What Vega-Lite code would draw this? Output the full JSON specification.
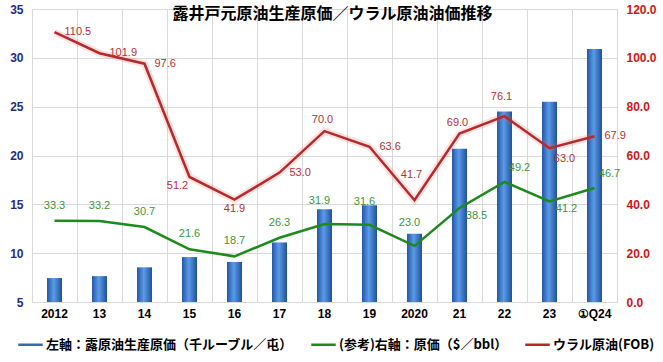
{
  "$schema": "https://vega.github.io/schema/vega-lite/v6.json",
  "width": 585,
  "height": 293,
  "autosize": {"type": "pad"},
  "padding": {"left": 5, "right": 5, "top": 3, "bottom": 5},
  "background": "white",
  "title": {
    "text": "露井戸元原油生産原価／ウラル原油油価推移",
    "font": "Noto Sans CJK JP",
    "fontSize": 16,
    "fontWeight": "bold",
    "color": "#000000",
    "anchor": "middle",
    "frame": "group",
    "offset": -19,
    "dx": 8
  },
  "data": {
    "values": [
      {"year": "2012", "cost": 7.45, "cost_usd": 33.3, "urals": 110.5},
      {"year": "13", "cost": 7.65, "cost_usd": 33.2, "urals": 101.9},
      {"year": "14", "cost": 8.55, "cost_usd": 30.7, "urals": 97.6},
      {"year": "15", "cost": 9.6, "cost_usd": 21.6, "urals": 51.2},
      {"year": "16", "cost": 9.1, "cost_usd": 18.7, "urals": 41.9},
      {"year": "17", "cost": 11.1, "cost_usd": 26.3, "urals": 53.0},
      {"year": "18", "cost": 14.5, "cost_usd": 31.9, "urals": 70.0},
      {"year": "19", "cost": 14.9, "cost_usd": 31.6, "urals": 63.6},
      {"year": "2020", "cost": 12.0, "cost_usd": 23.0, "urals": 41.7},
      {"year": "21", "cost": 20.7, "cost_usd": 38.5, "urals": 69.0},
      {"year": "22", "cost": 24.5, "cost_usd": 49.2, "urals": 76.1},
      {"year": "23", "cost": 25.5, "cost_usd": 41.2, "urals": 63.0},
      {"year": "①Q24", "cost": 30.9, "cost_usd": 46.7, "urals": 67.9}
    ]
  },
  "encoding": {
    "x": {
      "field": "year",
      "type": "ordinal",
      "sort": null,
      "scale": {"paddingInner": 0, "paddingOuter": 0},
      "axis": {
        "title": null,
        "labelAngle": 0,
        "labelFont": "Liberation Sans",
        "labelFontSize": 12,
        "labelFontWeight": "bold",
        "labelColor": "#000000",
        "labelPadding": 6,
        "ticks": false,
        "domain": false,
        "grid": true,
        "bandPosition": 0,
        "gridColor": "#d9d9d9"
      }
    }
  },
  "layer": [
    {
      "mark": {
        "type": "bar",
        "size": 15,
        "strokeWidth": 0,
        "fill": {
          "gradient": "linear",
          "x1": 0, "x2": 1, "y1": 0, "y2": 0,
          "stops": [
            {"offset": 0, "color": "#2355a6"},
            {"offset": 0.45, "color": "#5a9be8"},
            {"offset": 1, "color": "#21509c"}
          ]
        }
      },
      "encoding": {
        "y": {
          "field": "cost",
          "type": "quantitative",
          "scale": {"domain": [5, 35], "nice": false, "zero": false},
          "axis": {
            "orient": "left",
            "title": null,
            "values": [5, 10, 15, 20, 25, 30, 35],
            "labelFont": "Liberation Sans",
            "labelFontSize": 12,
            "labelFontWeight": "bold",
            "labelColor": "#1f2d86",
            "labelPadding": 9,
            "minExtent": 27,
            "maxExtent": 27,
            "ticks": false,
            "domain": false,
            "grid": true,
            "gridColor": "#d9d9d9"
          }
        },
        "y2": {"datum": 5},
        "stroke": {
          "datum": "左軸：露原油生産原価（千ルーブル／屯）",
          "type": "nominal",
          "scale": {
            "domain": ["左軸：露原油生産原価（千ルーブル／屯）", "(参考)右軸：原価（$／bbl）", "ウラル原油(FOB)"],
            "range": ["#3468b8", "#1e8a1e", "#b52a2a"]
          },
          "legend": {
            "orient": "none",
            "legendX": -15,
            "legendY": 322,
            "direction": "horizontal",
            "title": null,
            "symbolType": "stroke",
            "symbolSize": 600,
            "symbolStrokeWidth": 2.5,
            "labelFont": "Noto Sans CJK JP",
            "labelFontSize": 13,
            "labelFontWeight": "bold",
            "labelColor": "#000000",
            "labelOffset": 2,
            "labelLimit": 400,
            "columnPadding": 12,
            "encode": {
              "symbols": {
                "update": {
                  "strokeWidth": {"signal": "datum.value == '左軸：露原油生産原価（千ルーブル／屯）' ? 6 : 2.5"}
                }
              }
            }
          }
        }
      }
    },
    {
      "encoding": {
        "y": {"type": "quantitative", "scale": {"domain": [0, 120], "nice": false, "zero": false}}
      },
      "layer": [
        {
          "mark": {"type": "line", "strokeWidth": 2.5},
          "encoding": {
            "y": {
              "field": "cost_usd",
              "type": "quantitative",
              "axis": {"orient": "right", "title": null, "values": [0, 20, 40, 60, 80, 100, 120], "format": ".1f", "labelFont": "Liberation Sans", "labelFontSize": 12, "labelFontWeight": "bold", "labelColor": "#d01515", "labelPadding": 9, "ticks": false, "domain": false, "grid": false}
            },
            "stroke": {"datum": "(参考)右軸：原価（$／bbl）", "type": "nominal"}
          }
        },
        {
          "mark": {"type": "line", "strokeWidth": 7, "color": "#ff5a5a", "opacity": 0.18},
          "encoding": {"y": {"field": "urals", "type": "quantitative", "axis": {"orient": "right", "title": null, "values": [0, 20, 40, 60, 80, 100, 120], "format": ".1f", "labelFont": "Liberation Sans", "labelFontSize": 12, "labelFontWeight": "bold", "labelColor": "#d01515", "labelPadding": 9, "ticks": false, "domain": false, "grid": false}}}
        },
        {
          "mark": {"type": "line", "strokeWidth": 2.5},
          "encoding": {
            "y": {"field": "urals", "type": "quantitative", "axis": {"orient": "right", "title": null, "values": [0, 20, 40, 60, 80, 100, 120], "format": ".1f", "labelFont": "Liberation Sans", "labelFontSize": 12, "labelFontWeight": "bold", "labelColor": "#d01515", "labelPadding": 9, "ticks": false, "domain": false, "grid": false}},
            "stroke": {"datum": "ウラル原油(FOB)", "type": "nominal"}
          }
        },
        {
          "transform": [{"filter": {"field": "year", "oneOf": ["2012", "13", "14", "15", "16", "17"]}}],
          "mark": {"type": "text", "font": "Liberation Sans", "fontSize": 11, "color": "#3a963a", "dy": -15},
          "encoding": {"y": {"field": "cost_usd", "type": "quantitative", "axis": {"orient": "right", "title": null, "values": [0, 20, 40, 60, 80, 100, 120], "format": ".1f", "labelFont": "Liberation Sans", "labelFontSize": 12, "labelFontWeight": "bold", "labelColor": "#d01515", "labelPadding": 9, "ticks": false, "domain": false, "grid": false}}, "text": {"field": "cost_usd", "format": ".1f"}}
        },
        {
          "transform": [{"filter": {"field": "year", "oneOf": ["18", "19", "2020"]}}],
          "mark": {"type": "text", "font": "Liberation Sans", "fontSize": 11, "color": "#3a963a", "dx": -5, "dy": -23},
          "encoding": {"y": {"field": "cost_usd", "type": "quantitative", "axis": {"orient": "right", "title": null, "values": [0, 20, 40, 60, 80, 100, 120], "format": ".1f", "labelFont": "Liberation Sans", "labelFontSize": 12, "labelFontWeight": "bold", "labelColor": "#d01515", "labelPadding": 9, "ticks": false, "domain": false, "grid": false}}, "text": {"field": "cost_usd", "format": ".1f"}}
        },
        {
          "transform": [{"filter": {"field": "year", "oneOf": ["22", "①Q24"]}}],
          "mark": {"type": "text", "font": "Liberation Sans", "fontSize": 11, "color": "#3a963a", "dx": 15, "dy": -14},
          "encoding": {"y": {"field": "cost_usd", "type": "quantitative", "axis": {"orient": "right", "title": null, "values": [0, 20, 40, 60, 80, 100, 120], "format": ".1f", "labelFont": "Liberation Sans", "labelFontSize": 12, "labelFontWeight": "bold", "labelColor": "#d01515", "labelPadding": 9, "ticks": false, "domain": false, "grid": false}}, "text": {"field": "cost_usd", "format": ".1f"}}
        },
        {
          "transform": [{"filter": {"field": "year", "oneOf": ["21", "23"]}}],
          "mark": {"type": "text", "font": "Liberation Sans", "fontSize": 11, "color": "#3a963a", "dx": 17, "dy": 8},
          "encoding": {"y": {"field": "cost_usd", "type": "quantitative", "axis": {"orient": "right", "title": null, "values": [0, 20, 40, 60, 80, 100, 120], "format": ".1f", "labelFont": "Liberation Sans", "labelFontSize": 12, "labelFontWeight": "bold", "labelColor": "#d01515", "labelPadding": 9, "ticks": false, "domain": false, "grid": false}}, "text": {"field": "cost_usd", "format": ".1f"}}
        },
        {
          "transform": [{"filter": {"field": "year", "oneOf": ["2012", "13", "14", "17", "19", "①Q24"]}}],
          "mark": {"type": "text", "font": "Liberation Sans", "fontSize": 11, "color": "#b83030", "align": "left", "dx": 10, "dy": 0},
          "encoding": {"y": {"field": "urals", "type": "quantitative", "axis": {"orient": "right", "title": null, "values": [0, 20, 40, 60, 80, 100, 120], "format": ".1f", "labelFont": "Liberation Sans", "labelFontSize": 12, "labelFontWeight": "bold", "labelColor": "#d01515", "labelPadding": 9, "ticks": false, "domain": false, "grid": false}}, "text": {"field": "urals", "format": ".1f"}}
        },
        {
          "transform": [{"filter": {"field": "year", "oneOf": ["15"]}}],
          "mark": {"type": "text", "font": "Liberation Sans", "fontSize": 11, "color": "#b83030", "dx": -12, "dy": 9},
          "encoding": {"y": {"field": "urals", "type": "quantitative", "axis": {"orient": "right", "title": null, "values": [0, 20, 40, 60, 80, 100, 120], "format": ".1f", "labelFont": "Liberation Sans", "labelFontSize": 12, "labelFontWeight": "bold", "labelColor": "#d01515", "labelPadding": 9, "ticks": false, "domain": false, "grid": false}}, "text": {"field": "urals", "format": ".1f"}}
        },
        {
          "transform": [{"filter": {"field": "year", "oneOf": ["16"]}}],
          "mark": {"type": "text", "font": "Liberation Sans", "fontSize": 11, "color": "#b83030", "dx": 0, "dy": 9},
          "encoding": {"y": {"field": "urals", "type": "quantitative", "axis": {"orient": "right", "title": null, "values": [0, 20, 40, 60, 80, 100, 120], "format": ".1f", "labelFont": "Liberation Sans", "labelFontSize": 12, "labelFontWeight": "bold", "labelColor": "#d01515", "labelPadding": 9, "ticks": false, "domain": false, "grid": false}}, "text": {"field": "urals", "format": ".1f"}}
        },
        {
          "transform": [{"filter": {"field": "year", "oneOf": ["23"]}}],
          "mark": {"type": "text", "font": "Liberation Sans", "fontSize": 11, "color": "#b83030", "dx": 15, "dy": 11},
          "encoding": {"y": {"field": "urals", "type": "quantitative", "axis": {"orient": "right", "title": null, "values": [0, 20, 40, 60, 80, 100, 120], "format": ".1f", "labelFont": "Liberation Sans", "labelFontSize": 12, "labelFontWeight": "bold", "labelColor": "#d01515", "labelPadding": 9, "ticks": false, "domain": false, "grid": false}}, "text": {"field": "urals", "format": ".1f"}}
        },
        {
          "transform": [{"filter": {"field": "year", "oneOf": ["18", "21"]}}],
          "mark": {"type": "text", "font": "Liberation Sans", "fontSize": 11, "color": "#b83030", "dx": -2, "dy": -11},
          "encoding": {"y": {"field": "urals", "type": "quantitative", "axis": {"orient": "right", "title": null, "values": [0, 20, 40, 60, 80, 100, 120], "format": ".1f", "labelFont": "Liberation Sans", "labelFontSize": 12, "labelFontWeight": "bold", "labelColor": "#d01515", "labelPadding": 9, "ticks": false, "domain": false, "grid": false}}, "text": {"field": "urals", "format": ".1f"}}
        },
        {
          "transform": [{"filter": {"field": "year", "oneOf": ["22"]}}],
          "mark": {"type": "text", "font": "Liberation Sans", "fontSize": 11, "color": "#b83030", "dx": -3, "dy": -19},
          "encoding": {"y": {"field": "urals", "type": "quantitative", "axis": {"orient": "right", "title": null, "values": [0, 20, 40, 60, 80, 100, 120], "format": ".1f", "labelFont": "Liberation Sans", "labelFontSize": 12, "labelFontWeight": "bold", "labelColor": "#d01515", "labelPadding": 9, "ticks": false, "domain": false, "grid": false}}, "text": {"field": "urals", "format": ".1f"}}
        },
        {
          "transform": [{"filter": {"field": "year", "oneOf": ["2020"]}}],
          "mark": {"type": "text", "font": "Liberation Sans", "fontSize": 11, "color": "#b83030", "dx": -3, "dy": -25},
          "encoding": {"y": {"field": "urals", "type": "quantitative", "axis": {"orient": "right", "title": null, "values": [0, 20, 40, 60, 80, 100, 120], "format": ".1f", "labelFont": "Liberation Sans", "labelFontSize": 12, "labelFontWeight": "bold", "labelColor": "#d01515", "labelPadding": 9, "ticks": false, "domain": false, "grid": false}}, "text": {"field": "urals", "format": ".1f"}}
        }
      ]
    }
  ],
  "resolve": {"scale": {"y": "independent"}},
  "config": {
    "font": "Liberation Sans",
    "view": {"stroke": "#d9d9d9"}
  }
}
